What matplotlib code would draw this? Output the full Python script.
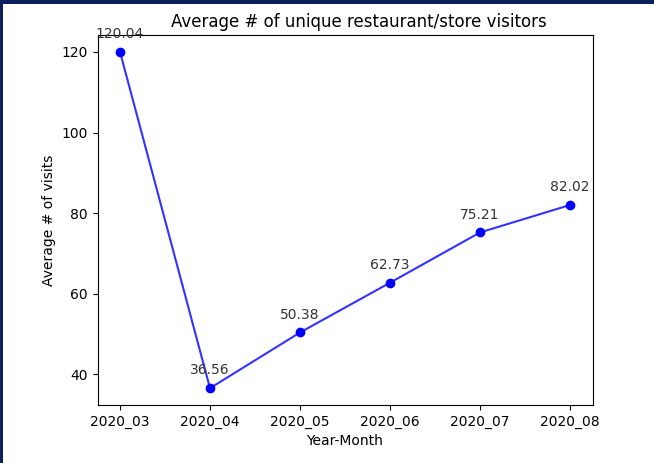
import matplotlib
matplotlib.use("Agg")
import matplotlib.pyplot as plt
from matplotlib.patches import Rectangle

months = ["2020_03", "2020_04", "2020_05", "2020_06", "2020_07", "2020_08"]
avg_visits = [120.04, 36.56, 50.38, 62.73, 75.21, 82.02]

W, H = 654, 463
fig = plt.figure(figsize=(W / 100, H / 100), dpi=100)
fig.patch.set_facecolor("white")
# dark screenshot frame (top and left edges)
fig.patches.append(Rectangle((0, 1 - 4 / H), 1, 4 / H, transform=fig.transFigure,
                             facecolor="#0b1f5c", edgecolor="none", zorder=0))
fig.patches.append(Rectangle((0, 0), 2.5 / W, 1, transform=fig.transFigure,
                             facecolor="#0b1f5c", edgecolor="none", zorder=0))

ax = fig.add_axes([97.5 / W, (H - 405) / H, 495 / W, 370 / H])
x = list(range(len(months)))
ax.plot(x, avg_visits, color="blue", alpha=0.8, linewidth=1.5)
ax.plot(x, avg_visits, "o", color="blue", markersize=6)
for xi, v in zip(x, avg_visits):
    ax.annotate(f"{v:.2f}", (xi, v), textcoords="offset points", xytext=(0, 10),
                ha="center", fontsize=10, color="#333333")
ax.set_xticks(x)
ax.set_xticklabels(months)
ax.set_xlabel("Year-Month")
ax.set_ylabel("Average # of visits")
ax.set_title("Average # of unique restaurant/store visitors", x=(359 - 97.5) / 495)

fig.savefig("out.png", dpi=100)
